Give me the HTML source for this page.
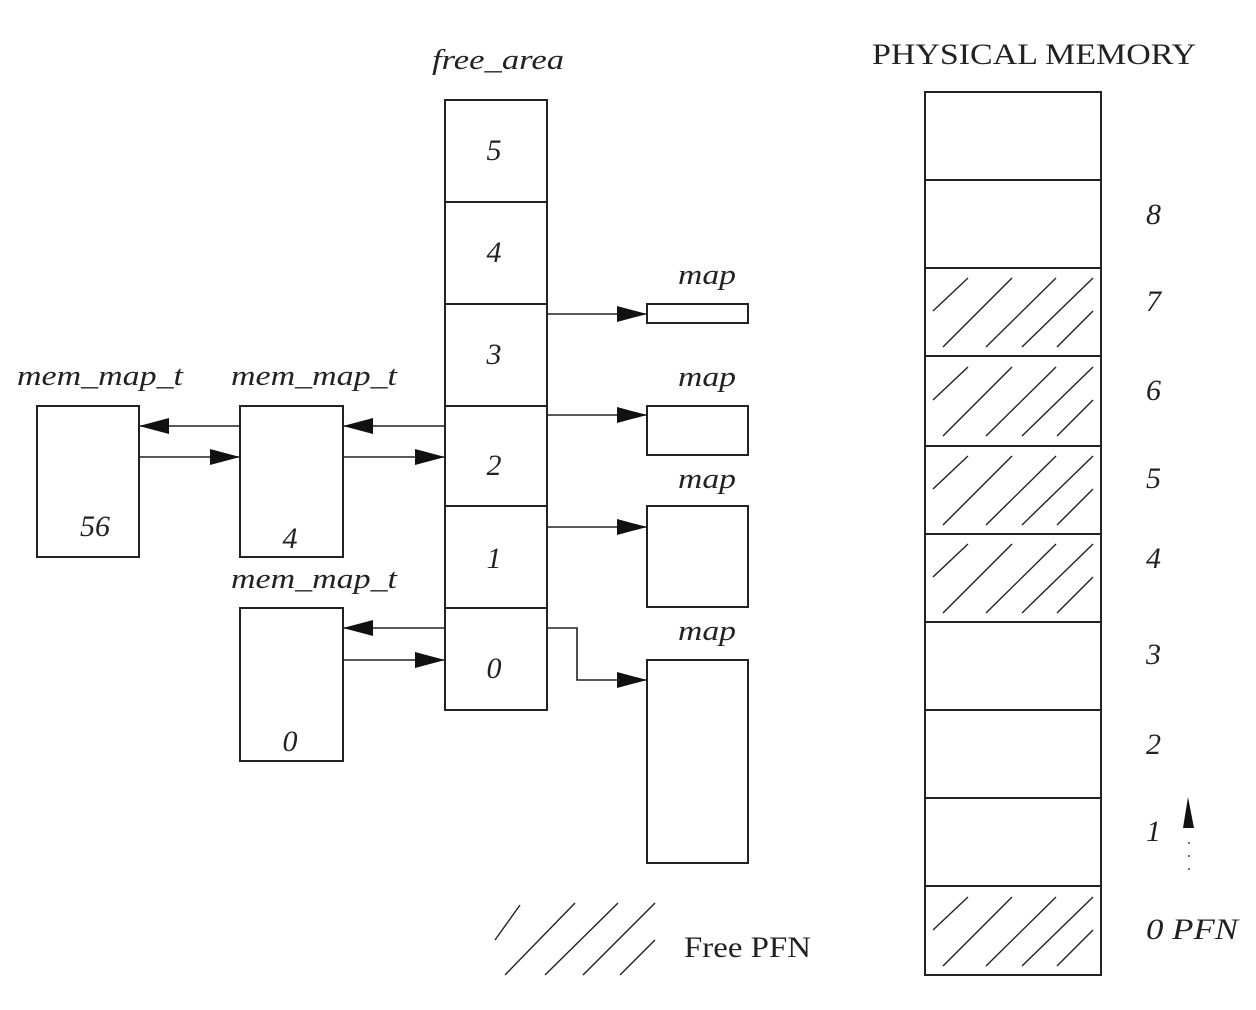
<!DOCTYPE html>
<html><head><style>
html,body{margin:0;padding:0;background:#fff;}
svg{display:block}
text{font-family:"Liberation Serif",serif;font-style:italic;fill:#222;}
</style></head><body>
<svg width="1256" height="1010" viewBox="0 0 1256 1010" xmlns="http://www.w3.org/2000/svg">
<defs>
<marker id="ah" markerWidth="30" markerHeight="16" refX="30" refY="8" orient="auto" markerUnits="userSpaceOnUse">
<path d="M0,0 L30,8 L0,16 Z" fill="#111"/>
</marker>
<g id="hatch" stroke="#222" stroke-width="1.4">
<line x1="8" y1="43" x2="43" y2="10"/>
<line x1="18" y1="79" x2="87" y2="10"/>
<line x1="61" y1="79" x2="131" y2="10"/>
<line x1="97" y1="79" x2="168" y2="10"/>
<line x1="132" y1="79" x2="168" y2="43"/>
</g>
</defs>
<g fill="none" stroke="#222" stroke-width="2">
<rect x="445" y="100" width="102" height="610"/>
<line x1="445" y1="202" x2="547" y2="202"/>
<line x1="445" y1="304" x2="547" y2="304"/>
<line x1="445" y1="406" x2="547" y2="406"/>
<line x1="445" y1="506" x2="547" y2="506"/>
<line x1="445" y1="608" x2="547" y2="608"/>
<rect x="37" y="406" width="102" height="151"/>
<rect x="240" y="406" width="103" height="151"/>
<rect x="240" y="608" width="103" height="153"/>
<rect x="647" y="304" width="101" height="19"/>
<rect x="647" y="406" width="101" height="49"/>
<rect x="647" y="506" width="101" height="101"/>
<rect x="647" y="660" width="101" height="203"/>
<rect x="925" y="92" width="176" height="883"/>
<line x1="925" y1="180" x2="1101" y2="180"/>
<line x1="925" y1="268" x2="1101" y2="268"/>
<line x1="925" y1="356" x2="1101" y2="356"/>
<line x1="925" y1="446" x2="1101" y2="446"/>
<line x1="925" y1="534" x2="1101" y2="534"/>
<line x1="925" y1="622" x2="1101" y2="622"/>
<line x1="925" y1="710" x2="1101" y2="710"/>
<line x1="925" y1="798" x2="1101" y2="798"/>
<line x1="925" y1="886" x2="1101" y2="886"/>
</g>
<use href="#hatch" x="925" y="268"/>
<use href="#hatch" x="925" y="357"/>
<use href="#hatch" x="925" y="446"/>
<use href="#hatch" x="925" y="534"/>
<use href="#hatch" x="925" y="887"/>
<g stroke="#222" stroke-width="1.4">
<line x1="495" y1="940" x2="520" y2="905"/>
<line x1="505" y1="975" x2="575" y2="903"/>
<line x1="545" y1="975" x2="618" y2="903"/>
<line x1="583" y1="975" x2="655" y2="903"/>
<line x1="620" y1="975" x2="655" y2="940"/>
</g>
<g stroke="#222" stroke-width="1.6" fill="none" marker-end="url(#ah)">
<line x1="445" y1="426" x2="343" y2="426"/>
<line x1="343" y1="457" x2="445" y2="457"/>
<line x1="240" y1="426" x2="139" y2="426"/>
<line x1="139" y1="457" x2="240" y2="457"/>
<line x1="445" y1="628" x2="343" y2="628"/>
<line x1="343" y1="660" x2="445" y2="660"/>
<line x1="547" y1="314" x2="647" y2="314"/>
<line x1="547" y1="415" x2="647" y2="415"/>
<line x1="547" y1="527" x2="647" y2="527"/>
<polyline points="547,628 577,628 577,680 647,680"/>
</g>
<path d="M1188,797 L1183,828 L1194,828 Z" fill="#111"/>
<g fill="#444"><circle cx="1189" cy="843" r="1"/><circle cx="1189" cy="856" r="1"/><circle cx="1189" cy="869" r="1"/></g>
<g font-size="30" text-anchor="middle">
<text x="494" y="160">5</text><text x="494" y="262">4</text><text x="494" y="364">3</text>
<text x="494" y="475">2</text><text x="494" y="568">1</text><text x="494" y="678">0</text>
<text x="95" y="536">56</text><text x="290" y="548">4</text><text x="290" y="751">0</text>
</g>
<g font-size="29">
<text x="432" y="69" textLength="132" lengthAdjust="spacingAndGlyphs">free_area</text>
<text x="17" y="385" textLength="166" lengthAdjust="spacingAndGlyphs">mem_map_t</text>
<text x="231" y="385" textLength="166" lengthAdjust="spacingAndGlyphs">mem_map_t</text>
<text x="231" y="588" textLength="166" lengthAdjust="spacingAndGlyphs">mem_map_t</text>
<text x="678" y="284" textLength="58" lengthAdjust="spacingAndGlyphs">map</text>
<text x="678" y="386" textLength="58" lengthAdjust="spacingAndGlyphs">map</text>
<text x="678" y="488" textLength="58" lengthAdjust="spacingAndGlyphs">map</text>
<text x="678" y="640" textLength="58" lengthAdjust="spacingAndGlyphs">map</text>
</g>
<g font-size="30">
<text x="1146" y="224">8</text><text x="1146" y="311">7</text><text x="1146" y="400">6</text>
<text x="1146" y="488">5</text><text x="1146" y="568">4</text><text x="1146" y="664">3</text>
<text x="1146" y="754">2</text><text x="1146" y="841">1</text>
<text x="1146" y="939" textLength="92" lengthAdjust="spacingAndGlyphs">0 PFN</text>
</g>
<text x="872" y="64" font-size="30" style="font-style:normal" textLength="324" lengthAdjust="spacingAndGlyphs">PHYSICAL MEMORY</text>
<text x="684" y="957" font-size="30" style="font-style:normal" textLength="127" lengthAdjust="spacingAndGlyphs">Free PFN</text>
</svg>
</body></html>
